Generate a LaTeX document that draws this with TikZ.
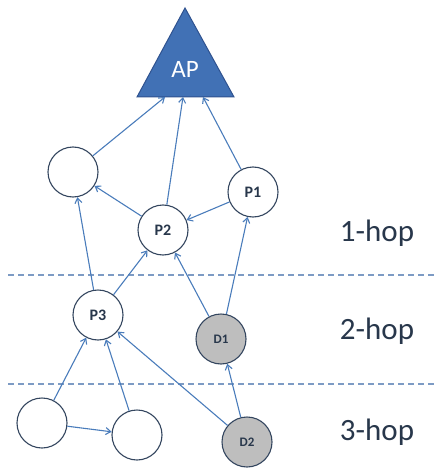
\documentclass[tikz,border=0pt]{standalone}
\usepackage{fontspec}
\setmainfont{Carlito}
\usetikzlibrary{arrows.meta}
\definecolor{edgeblue}{RGB}{74,124,187}
\definecolor{ringcol}{RGB}{52,70,95}
\definecolor{apfill}{RGB}{65,113,181}
\definecolor{apedge}{RGB}{47,82,143}
\definecolor{dashcol}{RGB}{125,155,196}
\definecolor{labcol}{RGB}{40,55,75}
\definecolor{grayfill}{RGB}{190,190,190}
\tikzset{
  nd/.style={circle,draw=ringcol,line width=1.1pt,fill=white,minimum size=50pt,inner sep=0pt,font=\fontsize{16}{16}\selectfont\bfseries,text=labcol},
  dn/.style={nd,fill=grayfill,font=\fontsize{13}{13}\selectfont\bfseries},
  link/.style={draw=edgeblue,line width=1.1pt,-{Straight Barb[length=5pt,width=7pt]}},
  sep/.style={draw=dashcol,line width=1.2pt,dash pattern=on 6pt off 4pt},
  hop/.style={font=\fontsize{31}{31}\selectfont,text=labcol,anchor=base}
}
\begin{document}
\begin{tikzpicture}[x=1pt,y=-1pt]
\useasboundingbox (0,0) rectangle (434,468);
% AP triangle
\draw[fill=apfill,draw=apedge,line width=1pt] (185,8) -- (234,97) -- (137,97) -- cycle;
\node[text=white,font=\fontsize{25}{25}\selectfont] (ap) at (185,69) {AP};
\coordinate (apL) at (165,97);
\coordinate (apM) at (183,97);
\coordinate (apR) at (203,97);
% separators
\coordinate (s1a) at (8,275); \coordinate (s1b) at (434,275);
\coordinate (s2a) at (8,384); \coordinate (s2b) at (434,384);
\draw[sep] (s1a) -- (s1b);
\draw[sep] (s2a) -- (s2b);
% nodes
\node[nd] (tl) at (73,172) {};
\node[nd] (p1) at (253,192) {P1};
\node[nd] (p2) at (163,230) {P2};
\node[nd] (p3) at (98,315) {P3};
\node[dn] (d1) at (221,339) {D1};
\node[nd] (bl) at (42,423) {};
\node[nd] (bm) at (137,435) {};
\node[dn] (d2) at (247,442) {D2};
% edges
\draw[link] (tl) -- (apL);
\draw[link] (p2) -- (apM);
\draw[link] (p1) -- (apR);
\draw[link] (p2) -- (tl);
\draw[link] (p1) -- (p2);
\draw[link] (p3) -- (tl);
\draw[link] (p3) -- (p2);
\draw[link] (d1) -- (p2);
\draw[link] (d1) -- (p1);
\draw[link] (bl) -- (p3);
\draw[link] (bl) -- (bm);
\draw[link] (bm) -- (p3);
\draw[link] (d2) -- (p3);
\draw[link] (d2) -- (d1);
% labels
\node[hop] (h1) at (377,241) {1-hop};
\node[hop] (h2) at (377,339) {2-hop};
\node[hop] (h3) at (377,440) {3-hop};
\end{tikzpicture}
\end{document}
